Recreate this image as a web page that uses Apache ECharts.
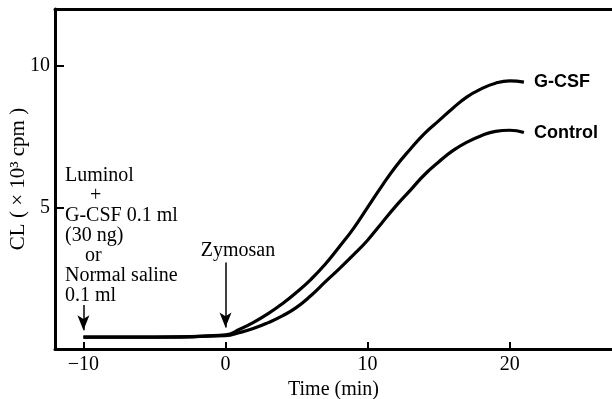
<!DOCTYPE html>
<html>
<head>
<meta charset="utf-8">
<script src="https://cdn.jsdelivr.net/npm/echarts@6/dist/echarts.min.js"></script>
<style>
  html, body { margin: 0; padding: 0; background: #fff; }
  #chart { width: 612px; height: 399px; }
</style>
</head>
<body>
<div id="chart"></div>
<script>
// time after zymosan (min)
const times = [-10, -5, 0, 1, 2, 3, 4, 5, 6, 7, 8, 9, 10, 11, 12, 13, 14, 15, 16, 17, 18, 19, 20, 21];
// CL (x10^3 cpm)
const gcsf = [0.42, 0.42, 0.5, 0.7, 0.95, 1.25, 1.6, 2.0, 2.45, 2.98, 3.6, 4.25, 5.0, 5.75, 6.45, 7.05, 7.6, 8.05, 8.5, 8.9, 9.18, 9.38, 9.46, 9.42];
const control = [0.42, 0.42, 0.47, 0.58, 0.73, 0.93, 1.17, 1.47, 1.88, 2.36, 2.83, 3.32, 3.84, 4.45, 5.05, 5.6, 6.15, 6.6, 7.0, 7.3, 7.53, 7.68, 7.72, 7.64];
const xTicks = [-10, 0, 10, 20];
const yTicks = [5, 10];
// arrows: [time, top, tip]
const arrows = [[-10, 1.55, 0.66], [0, 3.05, 0.76]];

const serif = "'Liberation Serif', 'DejaVu Serif', serif";
const sans = "'Liberation Sans', sans-serif";

const chart = echarts.init(document.getElementById("chart"));

const pairs = (ys) => times.map((t, i) => [t, ys[i]]);

chart.setOption({
  animation: false,
  grid: { left: 55, right: 0, top: 9, bottom: 50, outerBoundsMode: "none" },
  xAxis: [
    {
      type: "value",
      min: -12,
      max: 27.2,
      name: "Time (min)",
      nameLocation: "middle",
      nameGap: 30,
      nameTextStyle: { fontFamily: serif, fontSize: 20, color: "#000" },
      axisLine: { lineStyle: { color: "#000", width: 3 } },
      axisTick: { inside: true, length: 7, customValues: xTicks, lineStyle: { color: "#000", width: 2 } },
      axisLabel: {
        customValues: xTicks,
        margin: 6,
        fontFamily: serif,
        fontSize: 20,
        color: "#000",
        formatter: (v) => String(v).replace("-", "\u2212")
      },
      splitLine: { show: false }
    },
    {
      type: "value",
      position: "top",
      min: -12,
      max: 27.2,
      axisLine: { lineStyle: { color: "#000", width: 3 } },
      axisTick: { show: false },
      axisLabel: { show: false },
      splitLine: { show: false }
    }
  ],
  yAxis: {
    type: "value",
    min: 0,
    max: 12,
    name: "CL ( \u00d7 10\u00b3 cpm )",
    nameLocation: "middle",
    nameRotate: 90,
    nameGap: 26,
    nameMoveOverlap: false,
    nameTextStyle: { fontFamily: serif, fontSize: 21, color: "#000" },
    axisLine: { show: true, onZero: false, lineStyle: { color: "#000", width: 3 } },
    axisTick: { inside: true, length: 9, customValues: yTicks, lineStyle: { color: "#000", width: 2 } },
    axisLabel: { customValues: yTicks, margin: 5, fontFamily: serif, fontSize: 20, color: "#000" },
    splitLine: { show: false }
  },
  series: [
    {
      name: "G-CSF",
      type: "line",
      data: pairs(gcsf),
      smooth: 0.5,
      showSymbol: false,
      lineStyle: { color: "#000", width: 3.2 },
      endLabel: { show: true, formatter: "{a}", distance: 10, fontFamily: sans, fontWeight: "bold", fontSize: 18, color: "#000" },
      markLine: {
        silent: true,
        symbol: ["none", "arrow"],
        symbolSize: [9, 15],
        label: { show: false },
        lineStyle: { color: "#000", width: 1.5, type: "solid" },
        data: arrows.map((a) => [{ coord: [a[0], a[1]] }, { coord: [a[0], a[2]] }])
      }
    },
    {
      name: "Control",
      type: "line",
      data: pairs(control),
      smooth: 0.5,
      showSymbol: false,
      lineStyle: { color: "#000", width: 3.2 },
      endLabel: { show: true, formatter: "{a}", distance: 10, fontFamily: sans, fontWeight: "bold", fontSize: 18, color: "#000" }
    }
  ],
  graphic: [
    {
      type: "text",
      x: 65, y: 166,
      style: {
        text: "Luminol\n     +\nG-CSF 0.1 ml\n(30 ng)\n    or\nNormal saline\n0.1 ml",
        fontFamily: serif, fontSize: 20, lineHeight: 20, fill: "#000"
      }
    },
    {
      type: "text",
      x: 238, y: 251,
      style: { text: "Zymosan", fontFamily: serif, fontSize: 20, fill: "#000", align: "center", verticalAlign: "middle" }
    }
  ]
});
</script>
</body>
</html>
